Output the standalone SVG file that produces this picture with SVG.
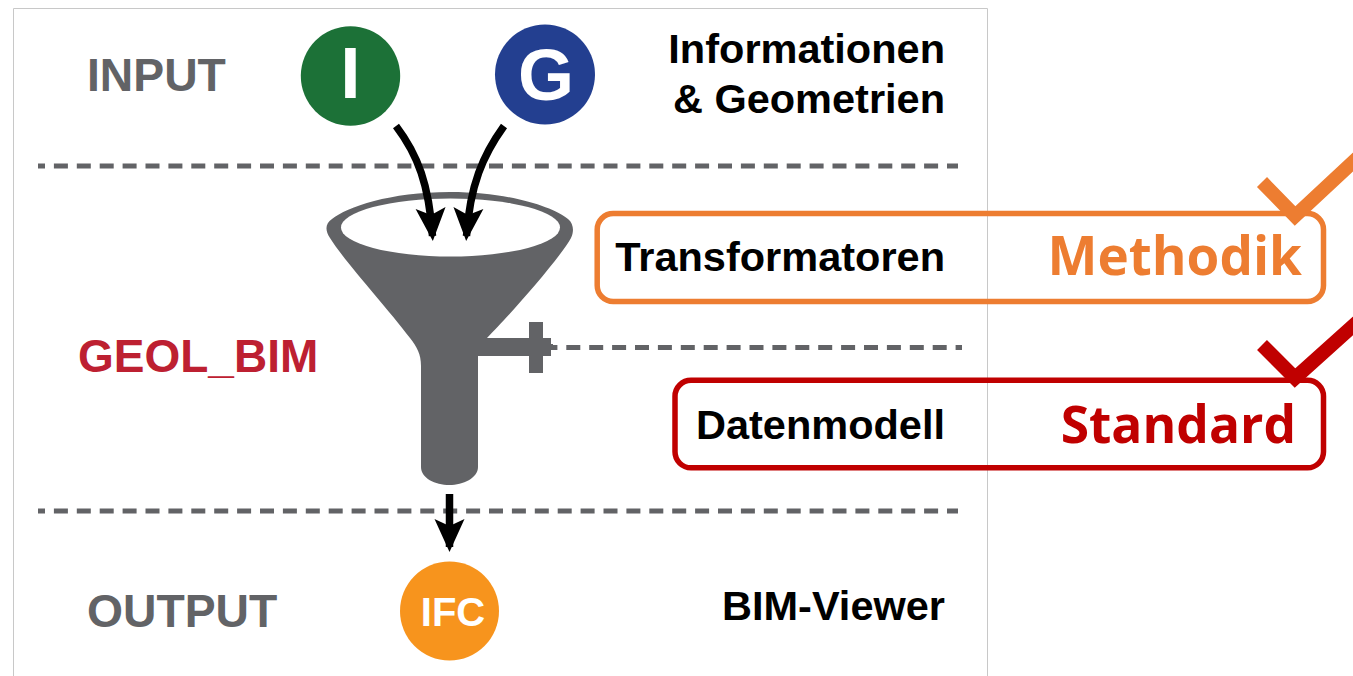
<svg xmlns="http://www.w3.org/2000/svg" width="1353" height="676" viewBox="0 0 1353 676">
<style>
.s{font-family:"Liberation Sans",Arial,sans-serif;font-weight:700}
.h{font-size:46.300px;fill:#626366}
.b{font-size:41.500px;fill:#000;text-anchor:end}
.c{font-family:"Open Sans","Noto Sans",sans-serif;font-weight:700;text-anchor:end}
.d{fill:none;stroke:#626366;stroke-width:5;stroke-dasharray:14 8.900}
.a{fill:none;stroke:#000;stroke-width:7.500}
.g{fill:#626366}
.r{fill:none;stroke-width:5.500}
.k{fill:none;stroke-width:14}
</style>
<defs>
<marker id="ah" markerUnits="userSpaceOnUse" markerWidth="40" markerHeight="40" refX="27" refY="13" orient="auto" viewBox="-4 -7 40 40" overflow="visible"><path d="M-1 -2L6 13L-1 28L32 13Z" fill="#000"/></marker>
</defs>
<rect x="0" y="0" width="1353" height="676" fill="#fff"/>
<path d="M13.500 676V8.500H987.500V676" fill="none" stroke="#c8c8c8" stroke-width="1"/>
<g id="labels">
<text class="s h" x="87" y="91">INPUT</text>
<text class="s" x="78" y="372" font-size="46" fill="#bd2031">GEOL_BIM</text>
<text class="s h" x="87" y="627">OUTPUT</text>
<text class="s b" x="945" y="62.500">Informationen</text>
<text class="s b" x="945" y="112.500">&amp; Geometrien</text>
<text class="s b" x="945" y="619.500">BIM-Viewer</text>
</g>
<g id="separators">
<path class="d" d="M38 166H958" stroke-dashoffset="7"/>
<path class="d" d="M38 511H958" stroke-dashoffset="7"/>
<path class="d" d="M552 347.500H962" stroke-dashoffset="8.600"/>
</g>
<g id="node-I"><circle cx="350.500" cy="76" r="49.700" fill="#1c7137"/><text class="s" x="350.500" y="98" font-size="73" fill="#fff" text-anchor="middle">I</text></g>
<g id="node-G"><circle cx="545" cy="74.500" r="50" fill="#233f90"/><text class="s" x="546" y="99.500" font-size="72" fill="#fff" text-anchor="middle">G</text></g>
<g id="node-funnel">
<path class="g" d="M450 192C510 192 553 207 568 219C574 224 574 232 571 238C560 258 510 315 487 338H529V322H543V338H551V344H553V350H551V356H543V373H529V356H478V467C478 478 463 485 449.500 485C435 485 421 478 421 467V366C421 354 417 347 410 338C385 305 345 262 330 238C325 230 325 224 332 219C347 207 390 192 450 192Z"/>
<ellipse cx="450.500" cy="227.500" rx="109.500" ry="29" fill="#fff"/>
</g>
<g id="node-IFC"><circle cx="449.500" cy="611" r="49.500" fill="#f7941d"/><text class="s" x="453" y="626" font-size="40" fill="#fff" text-anchor="middle">IFC</text></g>
<g id="connectors">
<path class="a" d="M396 126C418 155 429 185 432.500 236" marker-end="url(#ah)"/>
<path class="a" d="M504 126C483 155 470 185 466.500 236" marker-end="url(#ah)"/>
<path class="a" d="M449.500 494V547" marker-end="url(#ah)"/>
</g>
<g id="node-transformatoren">
<rect class="r" x="597.200" y="213.500" width="726.300" height="88" rx="16" stroke="#ed7d31"/>
<path class="k" d="M1262 182L1295 216L1375 141.500" stroke="#ed7d31"/>
<text class="s b" x="945" y="270.500">Transformatoren</text>
<text class="c" x="1302" y="275" font-size="53" fill="#ed7d31">Methodik</text>
</g>
<g id="node-datenmodell">
<rect class="r" x="675" y="380.300" width="648.500" height="87.500" rx="16" stroke="#c00000"/>
<path class="k" d="M1262 345L1295 378L1375 306" stroke="#c00000"/>
<text class="s b" x="945" y="438.500">Datenmodell</text>
<text class="c" x="1296" y="443" font-size="51.500" fill="#c00000">Standard</text>
</g>
</svg>
